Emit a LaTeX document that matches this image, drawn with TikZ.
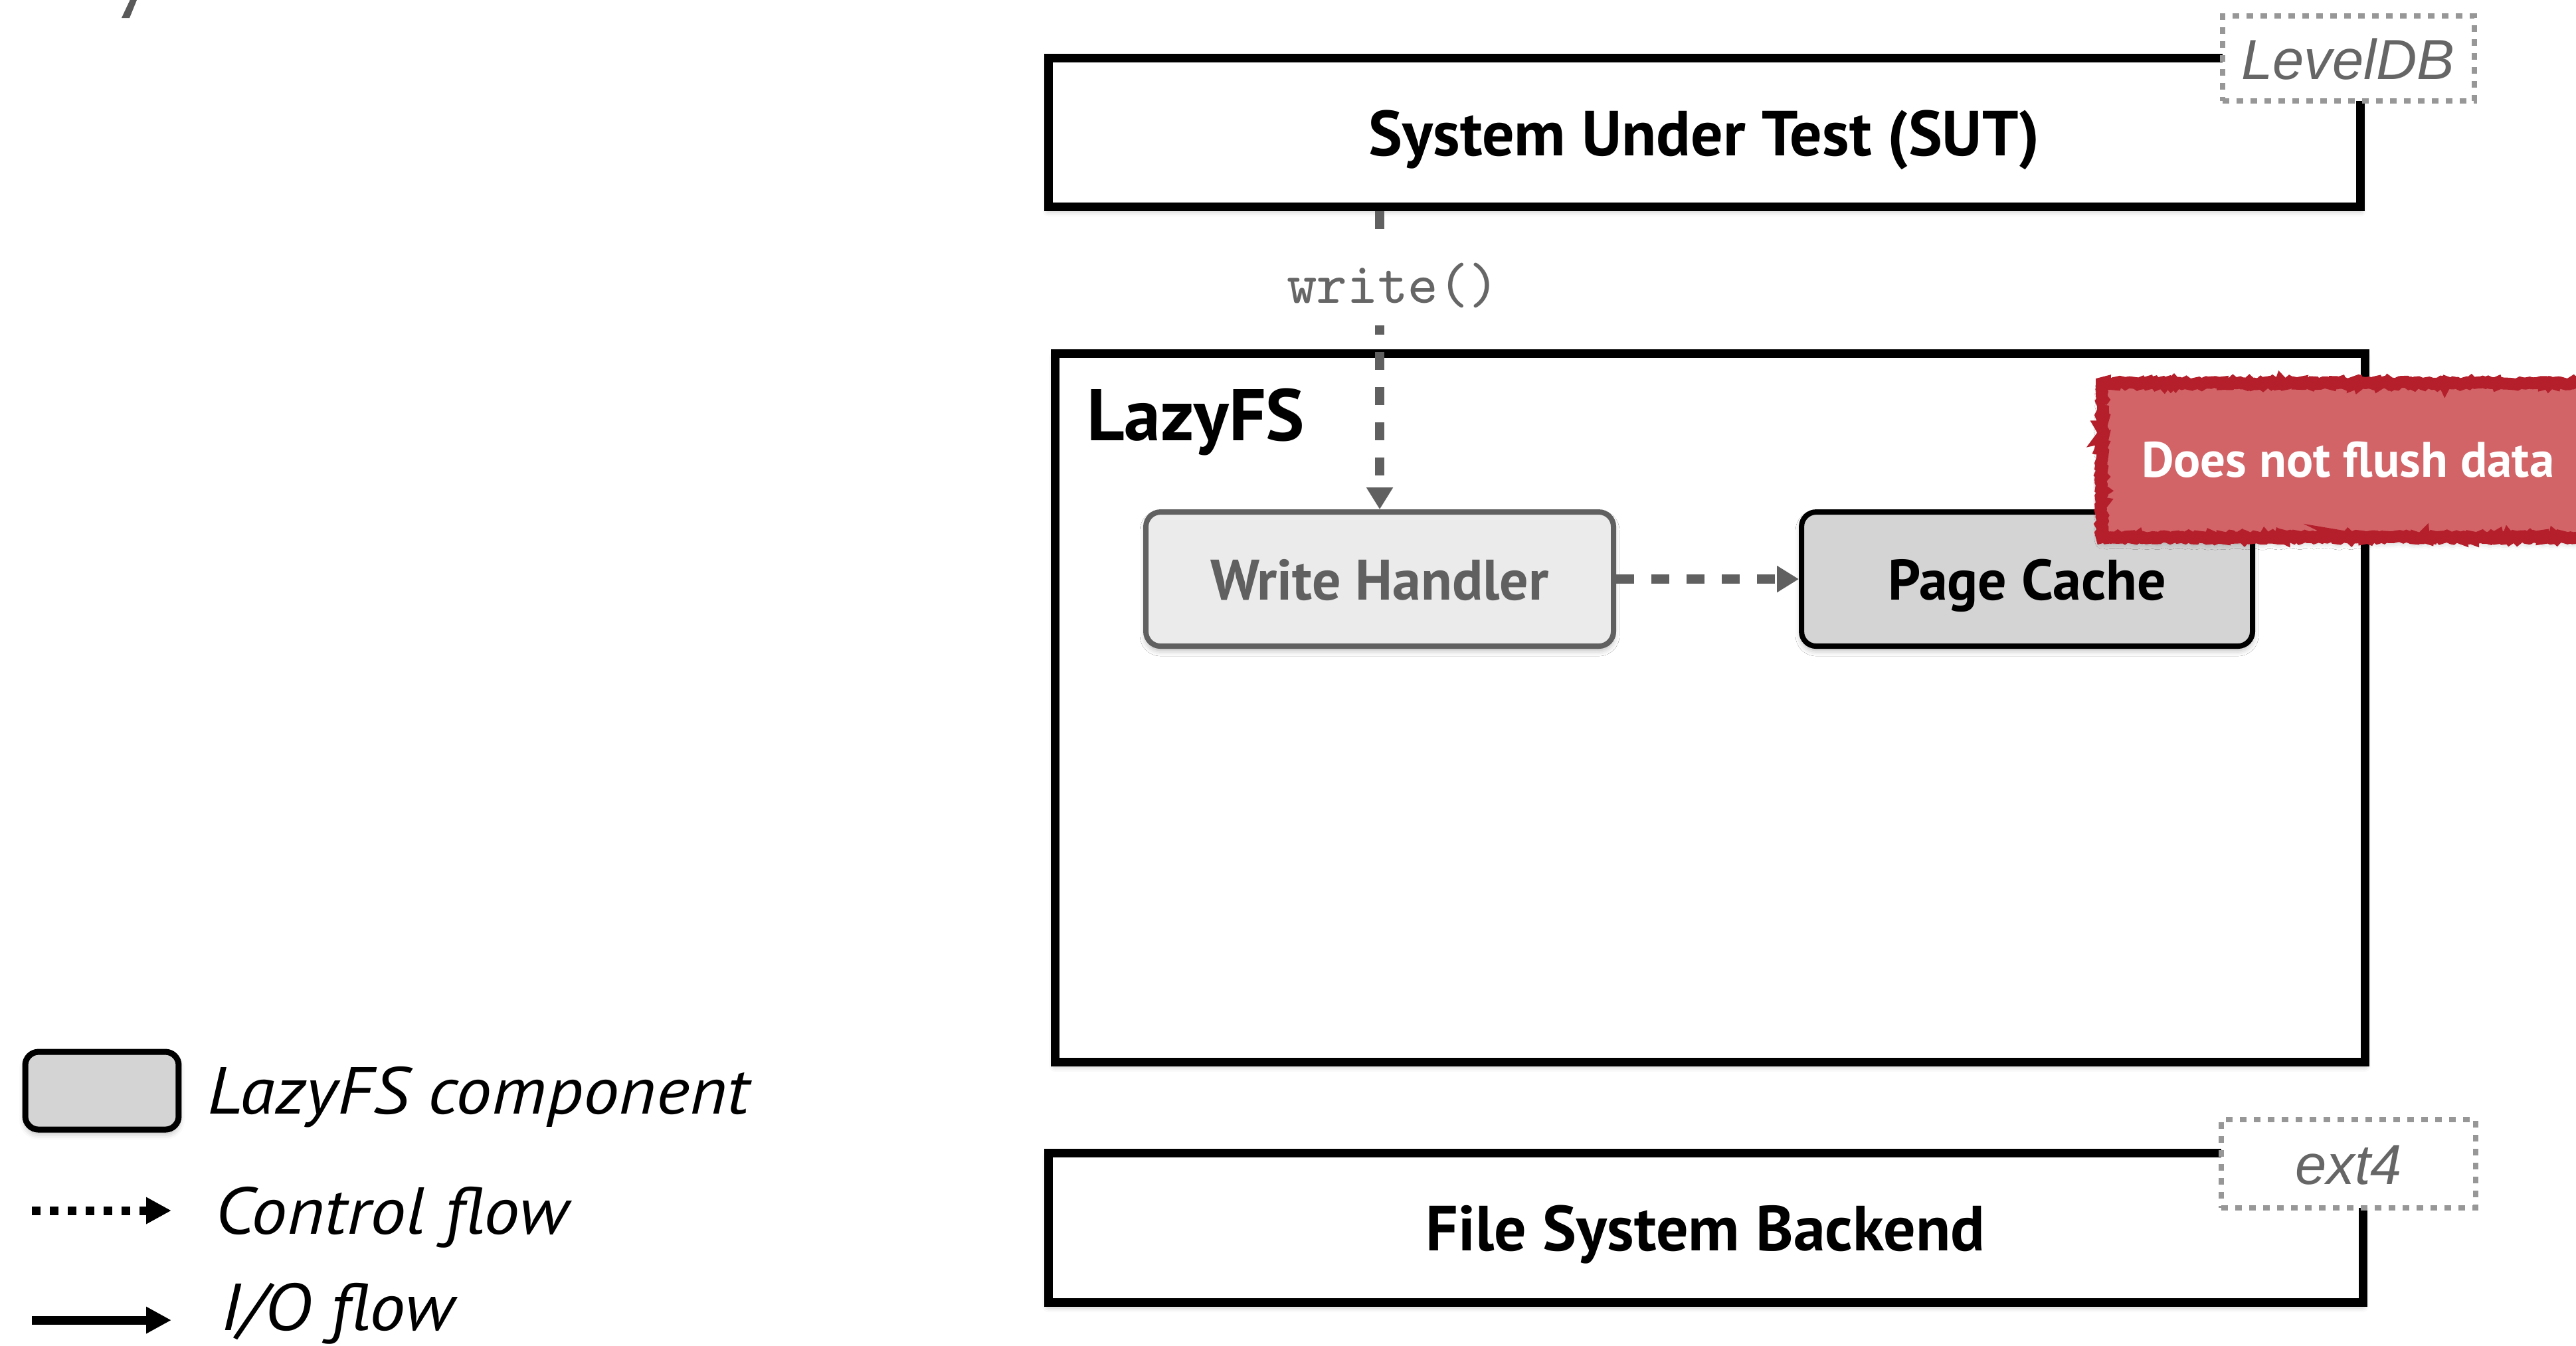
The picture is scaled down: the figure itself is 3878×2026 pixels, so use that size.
\documentclass[tikz,border=0pt]{standalone}
\usepackage{fontspec}
\newfontfamily\humanist{PT Sans}
\newfontfamily\legendfont[FakeStretch=1.08]{PT Sans}
\newfontfamily\arialike{Liberation Sans}
\usetikzlibrary{arrows.meta,shadows.blur,decorations.pathmorphing}

\definecolor{flowgrey}{HTML}{606060}
\definecolor{tagline}{HTML}{979797}
\definecolor{tagtext}{HTML}{666666}
\definecolor{handlerfill}{HTML}{EBEBEB}
\definecolor{compfill}{HTML}{D4D4D4}
\definecolor{stampfill}{HTML}{D26468}
\definecolor{stampedge}{HTML}{B41F2B}
\definecolor{glyphgrey}{HTML}{5A5A5A}

\tikzset{
  softshadow/.style={blur shadow={shadow xshift=0pt, shadow yshift=-0.6pt,
      shadow blur radius=0.9pt, shadow opacity=30}},
  layerbox/.style={draw=black, line width=1.3pt, fill=white, inner sep=0pt,
      softshadow, text height=7pt, text depth=0pt,
      font=\humanist\bfseries\fontsize{9.6pt}{11pt}\selectfont},
  tagbox/.style={draw=tagline, line width=0.8pt, dash pattern=on 1pt off 1.1pt,
      fill=white, inner sep=0pt, text=tagtext, text height=6.2pt, text depth=0pt,
      font=\arialike\itshape\fontsize{8.5pt}{10pt}\selectfont},
  compbox/.style={rounded corners=2.2pt, line width=0.8pt, inner sep=0pt,
      softshadow, minimum height=20.2pt, text height=6.2pt, text depth=0pt,
      font=\humanist\bfseries\fontsize{8.6pt}{10pt}\selectfont},
  ctrl/.style={draw=flowgrey, line width=1.4pt, dash pattern=on 2.7pt off 2.6pt,
      -{Triangle[width=3.8pt,length=3.3pt]}},
  legendtext/.style={anchor=base west, inner sep=0pt,
      font=\legendfont\itshape\fontsize{10pt}{12pt}\selectfont},
  legendarrow/.style={draw=black, line width=1.3pt,
      -{Triangle[width=3.8pt,length=3.8pt]}},
}

\begin{document}
\begin{tikzpicture}[x=0.1pt, y=-0.1pt]
\useasboundingbox (0,0) rectangle (3878,2026);

% tail of a heading letter cut by the top edge
\fill[glyphgrey] (183,27) -- (195,27) -- (208,-5) -- (198,-5) -- cycle;

% system under test
\node[layerbox, minimum width=197.5pt, minimum height=22.4pt] (sut) at (2566,199)
  {System Under Test (SUT)};
\node[tagbox, minimum width=37.9pt, minimum height=12.8pt] (leveldb) at (3535,88) {LevelDB};

% LazyFS layer
\node[layerbox, minimum width=197.2pt, minimum height=106.7pt] (lazyfs) at (2574,1065.5) {};
\node[anchor=base west, inner sep=0pt,
      font=\humanist\bfseries\fontsize{11pt}{13pt}\selectfont] (lazytitle) at (1634,663) {LazyFS};

\node[compbox, draw=flowgrey, fill=handlerfill, text=flowgrey, minimum width=70.4pt]
  (wh) at (2077,872) {Write Handler};
\node[compbox, draw=black, fill=compfill, minimum width=67.9pt]
  (pc) at (3051.5,872) {Page Cache};

% control flow
\draw[ctrl] (sut.south -| wh.north) --
  node[pos=0.25, xshift=2pt, fill=white, inner sep=0pt, minimum height=12pt,
       text=tagtext, font=\ttfamily\fontsize{8.7pt}{10pt}\selectfont] (wlabel) {write()}
  (wh.north);
\draw[ctrl] (wh.east) -- (pc.west);

% warning stamp
\node[draw=stampedge, fill=stampfill, line width=1.8pt, minimum width=80pt,
      minimum height=23.2pt, inner sep=0pt,
      decorate, decoration={random steps, segment length=0.35pt, amplitude=0.22pt},
      blur shadow={shadow xshift=0pt, shadow yshift=-0.7pt, shadow blur radius=1pt,
      shadow opacity=30}] (stamp) at (3564,693) {};
\node[anchor=base west, inner sep=0pt, text=white,
      font=\humanist\bfseries\fontsize{7.5pt}{9pt}\selectfont] (stamptext) at (3222,718)
  {Does not flush data};

% backend
\node[layerbox, minimum width=197.9pt, minimum height=22.5pt] (fsb) at (2567.5,1848.5)
  {File System Backend};
\node[tagbox, minimum width=38.3pt, minimum height=13.3pt] (ext4) at (3535.5,1752.5) {ext4};

% legend
\node[compbox, draw=black, fill=compfill, line width=0.9pt, minimum width=23.1pt,
      minimum height=11.7pt, rounded corners=2pt] (legbox) at (153.5,1642.5) {};
\node[legendtext] (legcomp) at (310,1677) {LazyFS component};

\coordinate (ctrlA) at (48,1823);
\coordinate (ctrlB) at (258,1823);
\draw[legendarrow, dash pattern=on 1.3pt off 1.4pt] (ctrlA) -- (ctrlB);
\node[legendtext] (legctrl) at (322,1858) {Control flow};

\coordinate (ioA) at (48,1988);
\coordinate (ioB) at (258,1988);
\draw[legendarrow] (ioA) -- (ioB);
\node[legendtext] (legio) at (330,2003) {I/O flow};
\end{tikzpicture}
\end{document}
